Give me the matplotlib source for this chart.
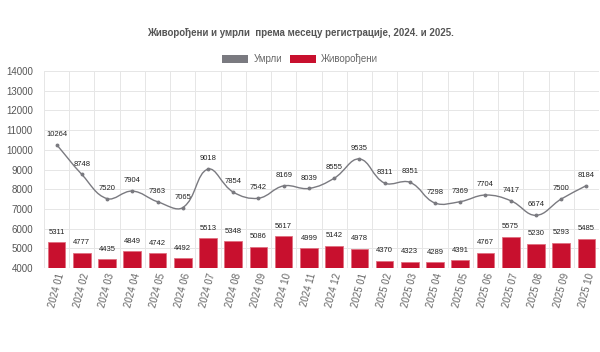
import matplotlib.pyplot as plt
import numpy as np
from matplotlib.path import Path
from matplotlib.patches import PathPatch, Patch

plt.rcParams['font.family'] = ['Liberation Sans', 'DejaVu Sans']

months = ['2024 01', '2024 02', '2024 03', '2024 04', '2024 05', '2024 06',
          '2024 07', '2024 08', '2024 09', '2024 10', '2024 11', '2024 12',
          '2025 01', '2025 02', '2025 03', '2025 04', '2025 05', '2025 06',
          '2025 07', '2025 08', '2025 09', '2025 10']
deaths = [10264, 8748, 7520, 7904, 7363, 7065, 9018, 7854, 7542, 8169, 8039,
          8555, 9535, 8311, 8351, 7298, 7369, 7704, 7417, 6674, 7500, 8184]
births = [5311, 4777, 4435, 4849, 4742, 4492, 5513, 5348, 5086, 5617, 4999,
          5142, 4978, 4370, 4323, 4289, 4391, 4767, 5575, 5230, 5293, 5485]

red = '#c8102e'
gray = '#7a7a80'

fig = plt.figure(figsize=(6, 3.52), dpi=100)
ax = fig.add_axes([44/600, 1 - 268/352, 555/600, 197/352])

x = np.arange(len(months))
ax.bar(x, births, width=0.7, color=red, edgecolor='#e07080', linewidth=0.6,
       zorder=2)
for xi, v in zip(x, births):
    ax.text(xi, v + 330, str(v), ha='center', va='bottom', fontsize=5.5, color='#222')


# smooth line like chart.js (tension 0.4)
def spline_path(xs, ys, t=0.4):
    verts = [(xs[0], ys[0])]
    codes = [Path.MOVETO]
    n = len(xs)
    cps = []
    for i in range(n):
        p = (xs[max(i - 1, 0)], ys[max(i - 1, 0)])
        c = (xs[i], ys[i])
        nx = (xs[min(i + 1, n - 1)], ys[min(i + 1, n - 1)])
        d01 = np.hypot(c[0] - p[0], (c[1] - p[1]) / 1000)
        d12 = np.hypot(nx[0] - c[0], (nx[1] - c[1]) / 1000)
        s = d01 + d12
        fa = t * d01 / s if s else 0
        fb = t * d12 / s if s else 0
        prev_cp = (c[0] - fa * (nx[0] - p[0]), c[1] - fa * (nx[1] - p[1]))
        next_cp = (c[0] + fb * (nx[0] - p[0]), c[1] + fb * (nx[1] - p[1]))
        cps.append((prev_cp, next_cp))
    for i in range(1, n):
        verts += [cps[i - 1][1], cps[i][0], (xs[i], ys[i])]
        codes += [Path.CURVE4] * 3
    return Path(verts, codes)


ax.add_patch(PathPatch(spline_path(list(x), deaths), facecolor='none',
                       edgecolor=gray, linewidth=1.0, zorder=3))
ax.plot(x, deaths, 'o', color=gray, markersize=1.8, zorder=4)
for xi, v in zip(x, deaths):
    ax.text(xi, v + 350, str(v), ha='center', va='bottom', fontsize=5.5, color='#222')

ax.set_xlim(-0.5, len(months) - 0.5)
ax.set_ylim(4000, 14000)
ax.set_yticks(range(4000, 14001, 1000))
ax.set_xticks(x)
ax.set_xticklabels(months, rotation=75, ha='center', fontsize=7, color='#666')
ax.tick_params(axis='y', labelsize=7, labelcolor='#555', length=0, pad=8)
ax.tick_params(axis='x', length=0, pad=3)
ax.set_xticks(np.arange(-0.5, len(months), 1), minor=True)
ax.grid(True, axis='y', color='#e6e6e6', linewidth=0.7, zorder=0)
ax.grid(True, axis='x', which='minor', color='#e6e6e6', linewidth=0.7, zorder=0)
ax.tick_params(axis='x', which='minor', length=0)
for s in ax.spines.values():
    s.set_visible(False)
ax.axhline(4000, color='#e0e0e0', linewidth=0.8, zorder=1)

fig.text(0.5, 1 - 33/352, 'Живорођени и умрли  према месецу регистрације, 2024. и 2025.',
         ha='center', va='center', fontsize=7, fontweight='bold', color='#555')
handles = [Patch(facecolor=gray), Patch(facecolor=red)]
fig.legend(handles, ['Умрли', 'Живорођени'], loc='center', bbox_to_anchor=(0.5, 1 - 59/352),
           ncol=2, frameon=False, fontsize=7, handlelength=2.7, handleheight=0.9,
           columnspacing=0.8, handletextpad=0.5, labelcolor='#666')

fig.savefig('out.png', dpi=100, facecolor='white')
